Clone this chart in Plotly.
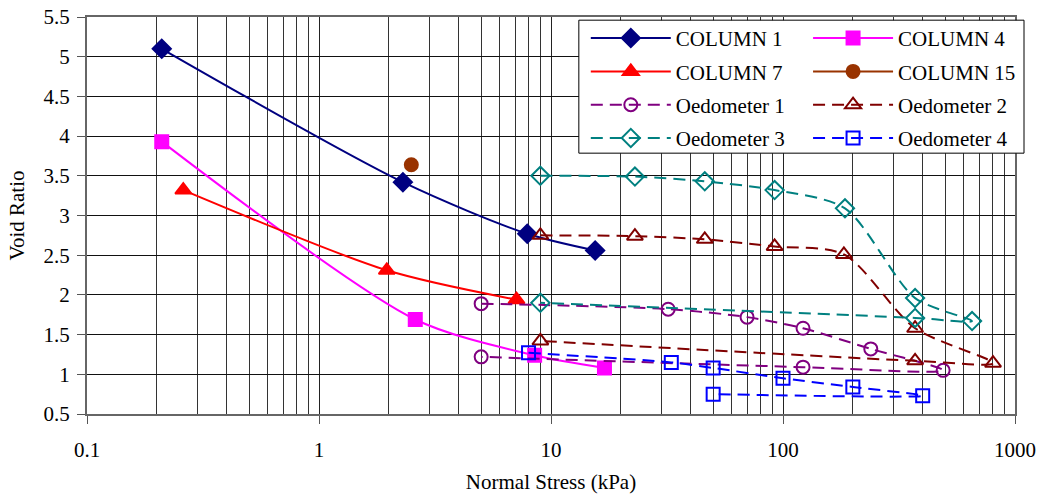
import plotly.graph_objects as go

# ---- data ----
c1_x = [0.21, 2.3, 7.9, 15.5]
c1_y = [5.1, 3.42, 2.77, 2.56]
c4_x = [0.21, 2.6, 8.5, 17]
c4_y = [3.93, 1.69, 1.24, 1.08]
c7_x = [0.26, 1.96, 7.1]
c7_y = [3.32, 2.31, 1.94]
c15_x = [2.5]
c15_y = [3.64]
o1_x = [5, 32, 70, 122, 239, 490, 122, 5]
o1_y = [1.89, 1.82, 1.72, 1.58, 1.32, 1.05, 1.09, 1.22]
o2_x = [9, 23, 46, 92, 183, 371, 804, 371, 9]
o2_y = [2.75, 2.74, 2.70, 2.61, 2.51, 1.58, 1.14, 1.17, 1.42]
o3_x = [9, 23, 46, 92, 185, 371, 653, 371, 9]
o3_y = [3.5, 3.49, 3.43, 3.32, 3.09, 1.96, 1.67, 1.71, 1.9]
o4_x = [8, 33, 50, 100, 200, 400, 50]
o4_y = [1.27, 1.15, 1.08, 0.95, 0.84, 0.73, 0.75]

x_ticks = [0.1, 1, 10, 100, 1000]
x_tick_text = ["0.1", "1", "10", "100", "1000"]
y_ticks = [0.5, 1, 1.5, 2, 2.5, 3, 3.5, 4, 4.5, 5, 5.5]
y_tick_text = ["0.5", "1", "1.5", "2", "2.5", "3", "3.5", "4", "4.5", "5", "5.5"]

FONT = "Liberation Serif"
FS = 21
DASH = "12px,7px"

series = [
    ("COLUMN 1", c1_x, c1_y, "#000080", "diamond", 14, "solid", "legend"),
    ("COLUMN 4", c4_x, c4_y, "#FF00FF", "square", 13, "solid", "legend2"),
    ("COLUMN 7", c7_x, c7_y, "#FF0000", "triangle-up", 14, "solid", "legend"),
    ("COLUMN 15", c15_x, c15_y, "#993300", "circle", 13, "solid", "legend2"),
    ("Oedometer 1", o1_x, o1_y, "#800080", "circle-open", 13, DASH, "legend"),
    ("Oedometer 2", o2_x, o2_y, "#800000", "triangle-up-open", 14, DASH, "legend2"),
    ("Oedometer 3", o3_x, o3_y, "#008080", "diamond-open", 14, DASH, "legend"),
    ("Oedometer 4", o4_x, o4_y, "#0000FF", "square-open", 13, DASH, "legend2"),
]

fig = go.Figure()
for i, (name, xs, ys, col, sym, sz, dash, leg) in enumerate(series):
    fig.add_trace(go.Scatter(
        x=xs, y=ys, name=name, mode="lines+markers",
        line=dict(color=col, width=2, dash=dash, shape="spline", smoothing=0.8),
        marker=dict(symbol=sym, size=sz, color=col, line=dict(color=col, width=2)),
        legend=leg, legendgroup="g%d" % i,
    ))

minor_vals = [m * 10 ** e for e in range(-1, 3) for m in range(2, 10)]

fig.update_layout(
    width=1039, height=494,
    margin=dict(l=87, r=24, t=17, b=80, autoexpand=False),
    paper_bgcolor="white", plot_bgcolor="white",
    font=dict(family=FONT, size=FS, color="black"),
    xaxis=dict(
        type="log", range=[-1, 3],
        tickmode="array", tickvals=x_ticks, ticktext=x_tick_text,
        ticks="outside", ticklen=8, tickcolor="#555", ticklabelstandoff=8,
        ticklabeloverflow="allow",
        showgrid=True, gridcolor="#222", gridwidth=1,
        minor=dict(tickvals=minor_vals, showgrid=True, gridcolor="#333", gridwidth=1, ticks=""),
        showline=True, linecolor="#666", linewidth=2, mirror=True,
        title=dict(text="Normal Stress (kPa)", standoff=15, font=dict(family=FONT, size=FS)),
        zeroline=False, automargin=False,
    ),
    yaxis=dict(
        range=[0.5, 5.5], tickmode="array", tickvals=y_ticks, ticktext=y_tick_text,
        ticks="outside", ticklen=8, tickcolor="#555", ticklabelstandoff=3,
        ticklabeloverflow="allow",
        showgrid=True, gridcolor="#111", gridwidth=1,
        showline=True, linecolor="#666", linewidth=2, mirror=True,
        title=dict(text="Void Ratio", standoff=13, font=dict(family=FONT, size=FS)),
        zeroline=False, automargin=False,
    ),
    legend=dict(
        x=0.5375, y=0.9976, xanchor="left", yanchor="top",
        bgcolor="rgba(0,0,0,0)", borderwidth=0, itemwidth=80,
        tracegroupgap=3, font=dict(family=FONT, size=FS),
    ),
    legend2=dict(
        x=0.777, y=0.9976, xanchor="left", yanchor="top",
        bgcolor="rgba(0,0,0,0)", borderwidth=0, itemwidth=80,
        tracegroupgap=3, font=dict(family=FONT, size=FS),
    ),
    shapes=[dict(
        type="rect", xref="paper", yref="paper",
        x0=0.530, x1=1.0097, y0=0.657, y1=0.992,
        line=dict(color="black", width=1), fillcolor="white", layer="above",
    )],
)

# remove the default 8px page margin so the figure fills the window exactly
fig.write_html(
    "out.html",
    config={"displayModeBar": False},
    post_script="document.body.style.margin='0';document.body.style.overflow='hidden';",
)
